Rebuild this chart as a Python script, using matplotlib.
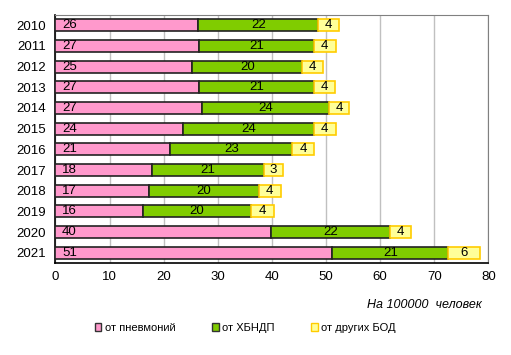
import matplotlib.pyplot as plt
from matplotlib.patches import Patch

plt.rcParams['font.family'] = ['Liberation Sans', 'DejaVu Sans']

years = ['2010', '2011', '2012', '2013', '2014', '2015',
         '2016', '2017', '2018', '2019', '2020', '2021']
pneumonia = [26.4, 26.6, 25.3, 26.6, 27.1, 23.6, 21.2, 17.8, 17.3, 16.2, 39.8, 51.2]
chronic = [22.2, 21.1, 20.3, 21.2, 23.5, 24.1, 22.6, 20.7, 20.3, 19.9, 22.0, 21.4]
other = [3.8, 4.1, 3.8, 3.8, 3.7, 4.1, 4.0, 3.6, 4.0, 4.2, 4.0, 5.9]

labels_p = [26, 27, 25, 27, 27, 24, 21, 18, 17, 16, 40, 51]
labels_c = [22, 21, 20, 21, 24, 24, 23, 21, 20, 20, 22, 21]
labels_o = [4, 4, 4, 4, 4, 4, 4, 3, 4, 4, 4, 6]

series_names = ['от пневмоний', 'от ХБНДП', 'от других БОД']
colors = ['#FF99CC', '#80CC00', '#FFFF99']
edges = ['#222222', '#222222', '#FFCC00']

fig = plt.figure(figsize=(5.11, 3.55), dpi=100)
ax = fig.add_axes([0.1086, 0.259, 0.847, 0.699])

pos = list(range(len(years)))
h = 0.58
ax.barh(pos, pneumonia, height=h, color=colors[0], edgecolor=edges[0], linewidth=1.2, zorder=3)
ax.barh(pos, chronic, left=pneumonia, height=h, color=colors[1], edgecolor=edges[1], linewidth=1.2, zorder=3)
left2 = [a + b for a, b in zip(pneumonia, chronic)]
ax.barh(pos, other, left=left2, height=h, color=colors[2], edgecolor=edges[2], linewidth=1.2, zorder=3)

fs = 9.5
for i in pos:
    ax.text(1.2, i, str(labels_p[i]), va='center', ha='left', fontsize=fs, zorder=4)
    ax.text(pneumonia[i] + chronic[i] / 2, i, str(labels_c[i]), va='center', ha='center', fontsize=fs, zorder=4)
    ax.text(left2[i] + other[i] / 2, i, str(labels_o[i]), va='center', ha='center', fontsize=fs, zorder=4)

ax.set_xlim(0, 80)
ax.set_ylim(11.5, -0.5)
ax.set_xticks(range(0, 81, 10))
ax.set_yticks(pos)
ax.set_yticklabels(years)
ax.tick_params(axis='both', length=0, labelsize=9.5)
ax.tick_params(axis='y', pad=7)
ax.tick_params(axis='x', pad=6)
ax.grid(axis='x', color='#C0C0C0', linewidth=1, zorder=0)
for side in ['top', 'right']:
    ax.spines[side].set_color('#808080')
for side in ['left', 'bottom']:
    ax.spines[side].set_color('black')
    ax.spines[side].set_linewidth(1.2)

fig.text(0.943, 0.14, 'На 100000  человек', ha='right', va='center', style='italic', fontsize=9)

handles = [Patch(facecolor=c, edgecolor=e if e != '#222222' else '#333333', linewidth=1) for c, e in zip(colors, edges)]
fig.legend(handles, series_names, loc='center', bbox_to_anchor=(0.48, 0.077), ncol=3, frameon=False,
           fontsize=8, handlelength=0.6, handleheight=0.8, handletextpad=0.3, columnspacing=3.3)

fig.savefig('out.png', dpi=100)
